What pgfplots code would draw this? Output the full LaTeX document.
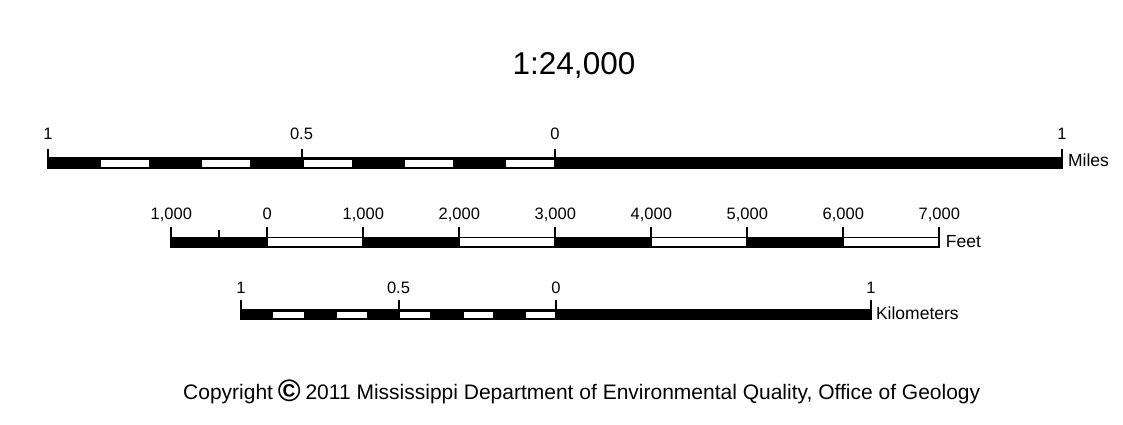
\documentclass[border=0pt]{standalone}
\usepackage{pgfplots}
\pgfplotsset{compat=1.18}
\usepackage{fontspec}
\setmainfont{Liberation Sans}

% rectangle: colour, x1, x2, y1, y2
\newcommand{\rect}[5]{\addplot[fill=#1, draw=none, forget plot] coordinates {(#2,#4) (#3,#4) (#3,#5) (#2,#5)} -- cycle;}
\newcommand{\lbl}{\fontsize{16.5pt}{18pt}\selectfont}
\newcommand{\ulbl}{\fontsize{17.5pt}{19pt}\selectfont}

\pgfplotsset{sbar/.style={hide axis, clip=false, y=1pt, ymin=0, ymax=22,
  anchor=south west, enlargelimits=false}}

\begin{document}
\begin{tikzpicture}
\useasboundingbox (0,0) rectangle (1123pt,425pt);

% title
\node[anchor=base, font=\fontsize{31.5pt}{36pt}\selectfont] at (574pt,350pt) {1:24,000};

% ---------------- Miles ----------------
\begin{axis}[sbar, x=507pt, xmin=-1, xmax=1, at={(48pt,255.7pt)}]
\rect{black}{-1}{1}{0}{11.8}
\rect{white}{-0.896}{-0.801}{2.6}{8.8}
\rect{white}{-0.697}{-0.602}{2.6}{8.8}
\rect{white}{-0.496}{-0.401}{2.6}{8.8}
\rect{white}{-0.296}{-0.202}{2.6}{8.8}
\rect{white}{-0.097}{-0.002}{2.6}{8.8}
\addplot[ycomb, black, line width=2pt] coordinates {(-1,20) (-0.5,20) (0,20) (1,20)};
\node[anchor=base, font=\lbl] at (axis cs:-1,29.3) {1};
\node[anchor=base, font=\lbl] at (axis cs:-0.5,29.3) {0.5};
\node[anchor=base, font=\lbl] at (axis cs:0,29.3) {0};
\node[anchor=base, font=\lbl] at (axis cs:1,29.3) {1};
\node[anchor=base west, font=\ulbl, xshift=2.5pt] at (axis cs:1,2.6) {Miles};
\end{axis}

% ---------------- Feet ----------------
\begin{axis}[sbar, x=0.096pt, xmin=-1000, xmax=7000, at={(171.3pt,176.7pt)}]
\rect{black}{-1000}{7000}{0}{11.6}
\rect{white}{0}{1000}{2.5}{10}
\rect{white}{2000}{3000}{2.5}{10}
\rect{white}{4000}{5000}{2.5}{10}
\rect{white}{6000}{7000}{2.5}{10}
\addplot[ycomb, black, line width=2pt] coordinates {(-1000,21.6) (0,21.6) (1000,21.6) (2000,21.6) (3000,21.6) (4000,21.6) (5000,21.6) (6000,21.6) (7000,21.6)};
\addplot[ycomb, black, line width=2pt] coordinates {(-500,18.3)};
\node[anchor=base, font=\lbl] at (axis cs:-1000,28.3) {1,000};
\node[anchor=base, font=\lbl] at (axis cs:0,28.3) {0};
\node[anchor=base, font=\lbl] at (axis cs:1000,28.3) {1,000};
\node[anchor=base, font=\lbl] at (axis cs:2000,28.3) {2,000};
\node[anchor=base, font=\lbl] at (axis cs:3000,28.3) {3,000};
\node[anchor=base, font=\lbl] at (axis cs:4000,28.3) {4,000};
\node[anchor=base, font=\lbl] at (axis cs:5000,28.3) {5,000};
\node[anchor=base, font=\lbl] at (axis cs:6000,28.3) {6,000};
\node[anchor=base, font=\lbl] at (axis cs:7000,28.3) {7,000};
\node[anchor=base west, font=\ulbl, xshift=3pt] at (axis cs:7000,1) {Feet};
\end{axis}

% ---------------- Kilometers ----------------
\begin{axis}[sbar, x=315pt, xmin=-1, xmax=1, at={(241pt,105pt)}]
\rect{black}{-1}{1}{0}{10.7}
\rect{white}{-0.897}{-0.801}{2.3}{7.7}
\rect{white}{-0.695}{-0.600}{2.3}{7.7}
\rect{white}{-0.494}{-0.401}{2.3}{7.7}
\rect{white}{-0.293}{-0.200}{2.3}{7.7}
\rect{white}{-0.094}{-0.002}{2.3}{7.7}
\addplot[ycomb, black, line width=2pt] coordinates {(-1,20) (-0.5,20) (0,20) (1,20)};
\node[anchor=base, font=\lbl] at (axis cs:-1,26) {1};
\node[anchor=base, font=\lbl] at (axis cs:-0.5,26) {0.5};
\node[anchor=base, font=\lbl] at (axis cs:0,26) {0};
\node[anchor=base, font=\lbl] at (axis cs:1,26) {1};
\node[anchor=base west, font=\ulbl, xshift=1.5pt] at (axis cs:1,0.7) {Kilometers};
\end{axis}

% copyright
\node[anchor=base, font=\fontsize{21pt}{24pt}\selectfont] at (581.7pt,25.7pt) {Copyright\hspace{-1pt} \raisebox{-2.5pt}{\bfseries\fontsize{31pt}{32pt}\selectfont ©}\hspace{-1pt} 2011 Mississippi Department of Environmental Quality, Office of Geology};
\end{tikzpicture}
\end{document}
